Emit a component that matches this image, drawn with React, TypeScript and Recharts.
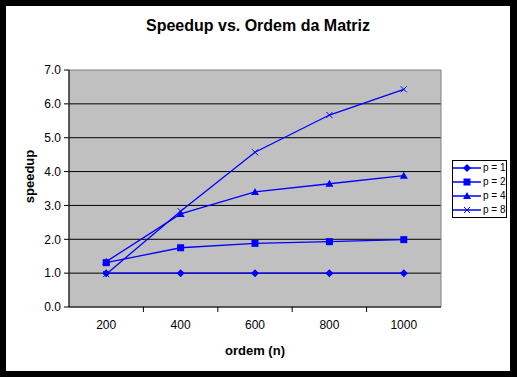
import React from 'react';
import { LineChart, Line, XAxis, YAxis, CartesianGrid, Legend, ReferenceArea } from 'recharts';

const ordens = [200, 400, 600, 800, 1000];
const p1 = [1.0, 1.0, 1.0, 1.0, 1.0];
const p2 = [1.31, 1.75, 1.88, 1.93, 1.99];
const p4 = [1.34, 2.75, 3.4, 3.64, 3.88];
const p8 = [0.97, 2.83, 4.57, 5.67, 6.43];
const yTicks = [0, 1, 2, 3, 4, 5, 6, 7];
const gridValues = [1, 2, 3, 4, 5, 6];

const data = ordens.map((n, i) => ({ n, p1: p1[i], p2: p2[i], p4: p4[i], p8: p8[i] }));

const BLUE = '#0000ff';
const FONT = '"Liberation Sans", Arial, sans-serif';

const CHART_W = 504;
const CHART_H = 365;
const MARGIN = { top: 64, right: 69, left: 0, bottom: 0 };
const Y_W = 63;
const X_H = 64;
const plotW = CHART_W - MARGIN.left - MARGIN.right - Y_W;
const halfBand = plotW / ordens.length / 2;

const drawMarker = (kind: string, cx: number, cy: number) => {
  switch (kind) {
    case 'diamond':
      return <polygon points={`${cx},${cy - 4} ${cx + 4},${cy} ${cx},${cy + 4} ${cx - 4},${cy}`} fill={BLUE} />;
    case 'square':
      return <rect x={cx - 3.5} y={cy - 3.5} width={7} height={7} fill={BLUE} />;
    case 'triangle':
      return <polygon points={`${cx},${cy - 4} ${cx + 4},${cy + 3} ${cx - 4},${cy + 3}`} fill={BLUE} />;
    default:
      return (
        <g stroke={BLUE} strokeWidth={1}>
          <line x1={cx - 3} y1={cy - 3} x2={cx + 3} y2={cy + 3} />
          <line x1={cx - 3} y1={cy + 3} x2={cx + 3} y2={cy - 3} />
        </g>
      );
  }
};

const markerDot = (kind: string) => (props: any) => {
  const { cx, cy, index } = props;
  if (cx == null || cy == null) return <g key={index} />;
  return <g key={`${kind}-${index}`}>{drawMarker(kind, cx, cy)}</g>;
};

const series = [
  { key: 'p1', name: 'p = 1', marker: 'diamond' },
  { key: 'p2', name: 'p = 2', marker: 'square' },
  { key: 'p4', name: 'p = 4', marker: 'triangle' },
  { key: 'p8', name: 'p = 8', marker: 'cross' },
];

const XTick = (props: any) => {
  const { x, y, payload, index } = props;
  const axisY = y - 8;
  return (
    <g>
      <text x={x} y={axisY + 22} textAnchor="middle" fontSize={12} fontFamily={FONT} fill="#000">
        {payload.value}
      </text>
      {index < ordens.length - 1 && (
        <line x1={x + halfBand} y1={axisY} x2={x + halfBand} y2={axisY + 5} stroke="#000" />
      )}
    </g>
  );
};

const LegendBox = () => (
  <div
    style={{
      width: 53,
      height: 56,
      border: '1px solid #000',
      background: '#fff',
      fontFamily: FONT,
      fontSize: 10,
      whiteSpace: 'nowrap',
      overflow: 'hidden',
      boxSizing: 'content-box',
    }}
  >
    {series.map((s) => (
      <div key={s.key} style={{ display: 'flex', alignItems: 'center', height: 14 }}>
        <svg width={29} height={14} style={{ display: 'block', flex: 'none' }}>
          <line x1={0} y1={7} x2={28} y2={7} stroke={BLUE} strokeWidth={1.5} />
          {drawMarker(s.marker, 14, 7)}
        </svg>
        <span style={{ marginLeft: 1, lineHeight: '14px' }}>{s.name}</span>
      </div>
    ))}
  </div>
);

export default function App() {
  return (
    <div style={{ position: 'absolute', left: 0, top: 0, width: 517, height: 377, background: '#000' }}>
      <div style={{ position: 'absolute', left: 6, top: 6, width: CHART_W, height: CHART_H, background: '#fff' }}>
        <div
          style={{
            position: 'absolute',
            left: 0,
            top: 11,
            width: CHART_W,
            textAlign: 'center',
            fontFamily: FONT,
            fontWeight: 'bold',
            fontSize: 16,
          }}
        >
          Speedup vs. Ordem da Matriz
        </div>
        <LineChart width={CHART_W} height={CHART_H} data={data} margin={MARGIN}>
          <CartesianGrid
            vertical={false}
            horizontalValues={gridValues}
            stroke="#000"
            strokeOpacity={1}
            fill="#c0c0c0"
            fillOpacity={1}
          />
          <ReferenceArea x1={100} x2={1100} y1={0} y2={7} fill="none" stroke="#808080" strokeWidth={1} ifOverflow="visible" />
          <XAxis
            dataKey="n"
            type="number"
            domain={[100, 1100]}
            ticks={ordens}
            height={X_H}
            tickLine={false}
            tickSize={5}
            tickMargin={3}
            axisLine={{ stroke: '#000' }}
            tick={<XTick />}
            label={{ value: 'ordem (n)', position: 'insideBottom', offset: 16, fontSize: 13, fontWeight: 'bold', fontFamily: FONT, fill: '#000' }}
          />
          <YAxis
            domain={[0, 7]}
            ticks={yTicks}
            width={Y_W}
            tickFormatter={(v: number) => v.toFixed(1)}
            tickSize={5}
            tickMargin={3}
            tick={{ fontSize: 12, fontFamily: FONT, fill: '#000' }}
            tickLine={{ stroke: '#000' }}
            axisLine={{ stroke: '#000' }}
            label={{
              content: (p: any) => {
                const vb = p.viewBox;
                const cx = vb.x + 23;
                const cy = vb.y + vb.height / 2 - 12;
                return (
                  <text x={cx} y={cy} transform={`rotate(-90 ${cx} ${cy})`} textAnchor="middle" dominantBaseline="central" fontSize={13} fontWeight="bold" fontFamily={FONT} fill="#000">
                    speedup
                  </text>
                );
              },
            }}
          />
          <Legend
            layout="vertical"
            align="center"
            verticalAlign="middle"
            content={<LegendBox />}
            wrapperStyle={{ position: 'absolute', left: 446, top: 154, width: 55 }}
          />
          {series.map((s) => (
            <Line
              key={s.key}
              dataKey={s.key}
              name={s.name}
              stroke={BLUE}
              strokeWidth={1.3}
              dot={markerDot(s.marker)}
              activeDot={false}
              isAnimationActive={false}
            />
          ))}
        </LineChart>
      </div>
    </div>
  );
}
